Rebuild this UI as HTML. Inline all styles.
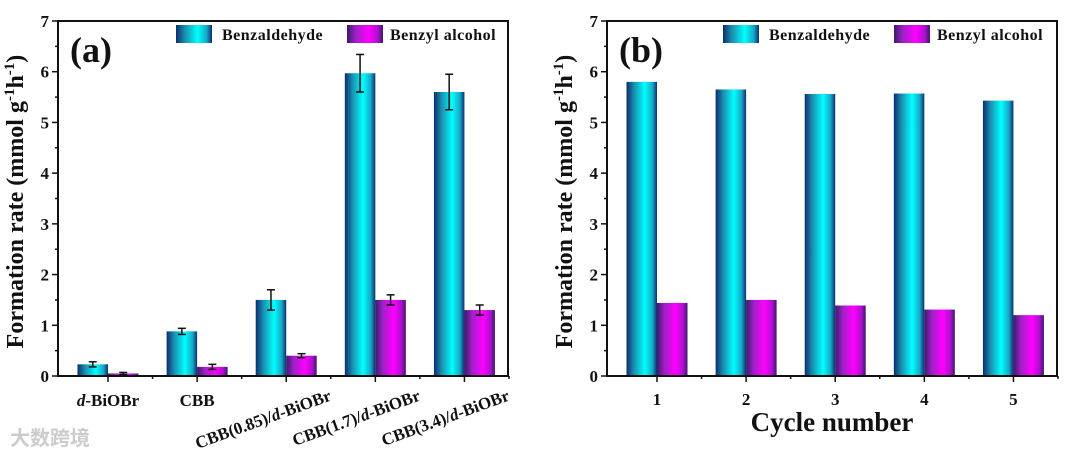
<!DOCTYPE html>
<html><head><meta charset="utf-8"><style>
html,body{margin:0;padding:0;background:#fff;}
svg text{font-family:"Liberation Serif",serif;font-weight:bold;fill:#111;}
</style></head><body>
<svg id="c" width="1080" height="457" viewBox="0 0 1080 457" xmlns="http://www.w3.org/2000/svg">
<defs>
<linearGradient id="gA" x1="0" x2="1" y1="0" y2="0">
<stop offset="0" stop-color="#0b2f6e"/><stop offset="0.25" stop-color="#1a8fb0"/><stop offset="0.6" stop-color="#00ffff"/><stop offset="0.85" stop-color="#17a8c8"/><stop offset="1" stop-color="#0b2f6e"/></linearGradient>
<linearGradient id="gB" x1="0" x2="1" y1="0" y2="0">
<stop offset="0" stop-color="#3a1a6a"/><stop offset="0.25" stop-color="#a020c8"/><stop offset="0.6" stop-color="#ff00ff"/><stop offset="0.85" stop-color="#b010d0"/><stop offset="1" stop-color="#3a1a6a"/></linearGradient>
</defs>
<g id="pa"></g>
<g id="pb"></g>
<text x="10" y="445" font-size="20" style="fill:#ccc;font-family:'Noto Sans CJK SC',sans-serif">大数跨境</text>
</svg>
<script>
const catsA = ["d-BiOBr","CBB","CBB(0.85)/d-BiOBr","CBB(1.7)/d-BiOBr","CBB(3.4)/d-BiOBr"];
const aldA = [0.23,0.88,1.5,5.97,5.6];
const alcA = [0.05,0.18,0.4,1.5,1.3];
const aldErrA = [0.05,0.06,0.2,0.37,0.35];
const alcErrA = [0.02,0.05,0.04,0.1,0.1];
const catsB = ["1","2","3","4","5"];
const aldB = [5.8,5.65,5.56,5.57,5.43];
const alcB = [1.44,1.5,1.39,1.31,1.2];
const yTicks = [0,1,2,3,4,5,6,7];
const NS="http://www.w3.org/2000/svg";
function mk(p,t,a){const e=document.createElementNS(NS,t);for(const k in a)e.setAttribute(k,a[k]);p.appendChild(e);return e;}
function panel(g,L,R,cats,ald,alc,aldE,alcE,label,legX,isA){
  const T=21,B=376,yMax=7;
  const y=v=>B-(v/yMax)*(B-T);
  const step=(R-L)/5.05; const x0=L+50;
  const cx=i=>x0+i*step;
  const bw=30.5;
  ald.forEach((v,i)=>{const r=mk(g,'rect',{x:cx(i)-bw,y:y(v),width:bw,height:B-y(v),fill:'url(#gA)'});
    
    });
  alc.forEach((v,i)=>{const r=mk(g,'rect',{x:cx(i),y:y(v),width:bw,height:B-y(v),fill:'url(#gB)'});
    
    });
  if(aldE){
    const eb=(xc,v,e,n)=>{const eg=mk(g,'g',{stroke:'#111','stroke-width':1.5});
      
      
      mk(eg,'line',{x1:xc,x2:xc,y1:y(v+e),y2:y(v-e)});
      mk(eg,'line',{x1:xc-4,x2:xc+4,y1:y(v+e),y2:y(v+e)});
      mk(eg,'line',{x1:xc-4,x2:xc+4,y1:y(v-e),y2:y(v-e)});};
    ald.forEach((v,i)=>eb(cx(i)-bw/2,v,aldE[i],'benzaldehyde-error-'+(i+1)));
    alc.forEach((v,i)=>eb(cx(i)+bw/2,v,alcE[i],'benzyl-alcohol-error-'+(i+1)));
  }
  const f=mk(g,'rect',{x:L,y:T,width:R-L,height:B-T,fill:'none',stroke:'#111','stroke-width':2});
  
  
  yTicks.forEach(t=>{mk(g,'line',{x1:L-6,x2:L,y1:y(t),y2:y(t),stroke:'#111','stroke-width':1.5});
    if(t<7)mk(g,'line',{x1:L-3,x2:L,y1:y(t+0.5),y2:y(t+0.5),stroke:'#111','stroke-width':1.5});
    const tx=mk(g,'text',{x:L-9,y:y(t)+6,'font-size':17,'text-anchor':'end'});tx.textContent=t;
    
    });
  cats.forEach((c,i)=>{mk(g,'line',{x1:cx(i),x2:cx(i),y1:B,y2:B+6,stroke:'#111','stroke-width':1.5});
    mk(g,'line',{x1:cx(i)+step/2,x2:cx(i)+step/2,y1:B,y2:B+3,stroke:'#111','stroke-width':1.5});
    let tx;
    if(isA){
      if(i<2){tx=mk(g,'text',{x:cx(i),y:B+30,'font-size':17,'text-anchor':'middle'});}
      else{tx=mk(g,'text',{x:cx(i)+46,y:B+24,'font-size':17,'text-anchor':'end',transform:`rotate(-20 ${cx(i)+46} ${B+24})`});}
      const parts=c.split('d-');
      if(parts.length>1){tx.appendChild(document.createTextNode(parts[0]));const it=mk(tx,'tspan',{'font-style':'italic'});it.textContent='d';tx.appendChild(document.createTextNode('-'+parts[1]));}
      else tx.textContent=c;
    } else {tx=mk(g,'text',{x:cx(i),y:B+29,'font-size':17,'text-anchor':'middle'});tx.textContent=c;}
    
    });
  const lb=mk(g,'text',{x:L+12,y:62,'font-size':36});lb.textContent=label;
  
  
  const yx=L-35, yc=(T+B)/2+3;
  const yt=mk(g,'text',{x:yx,y:yc,'font-size':24,'text-anchor':'middle',transform:`rotate(-90 ${yx} ${yc})`});
  yt.innerHTML='Formation rate (mmol g<tspan dy="-9" font-size="15">-1</tspan><tspan dy="9">h</tspan><tspan dy="-9" font-size="15">-1</tspan><tspan dy="9">)</tspan>';
  
  
  const lg=mk(g,'g',{});
  
  
  mk(lg,'rect',{x:legX,y:25,width:36,height:18,fill:'url(#gA)'});
  let t1=mk(lg,'text',{x:legX+46,y:40,'font-size':16,'letter-spacing':'0.5'});t1.textContent='Benzaldehyde';
  mk(lg,'rect',{x:legX+171,y:25,width:36,height:18,fill:'url(#gB)'});
  let t2=mk(lg,'text',{x:legX+214,y:40,'font-size':16,'letter-spacing':'0.5'});t2.textContent='Benzyl alcohol';
  if(!isA){const xt=mk(g,'text',{x:(L+R)/2,y:431,'font-size':27,'text-anchor':'middle'});xt.textContent='Cycle number';
    
    }
}
panel(document.getElementById('pa'),58,508,catsA,aldA,alcA,aldErrA,alcErrA,'(a)',176,true);
panel(document.getElementById('pb'),607,1057,catsB,aldB,alcB,null,null,'(b)',723,false);
</script>
</body></html>
